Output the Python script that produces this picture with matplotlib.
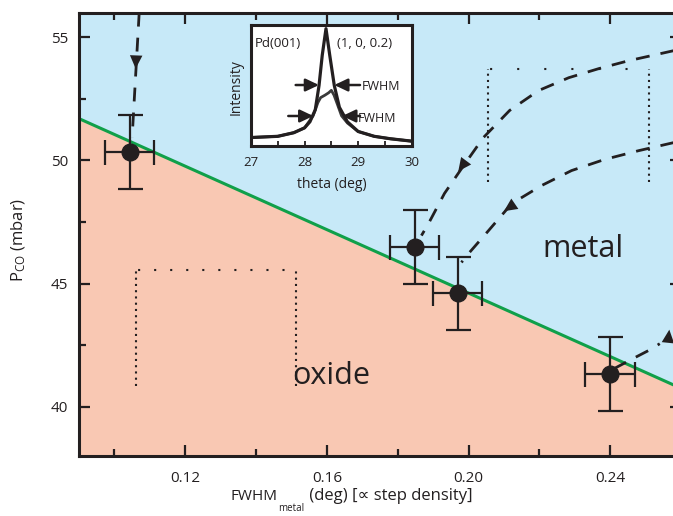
import matplotlib
matplotlib.use('Agg')
import matplotlib.pyplot as plt
from matplotlib.ticker import FixedLocator

plt.rcParams['font.family'] = ['Open Sans', 'DejaVu Sans']
plt.rcParams['mathtext.fontset'] = 'custom'
plt.rcParams['mathtext.rm'] = 'Open Sans'
plt.rcParams['mathtext.it'] = 'Open Sans:italic'
plt.rcParams['mathtext.bf'] = 'Open Sans:bold'

# data points (FWHM of metal peak vs CO pressure)
fwhm = [0.1043, 0.1848, 0.1969, 0.2400]
p_co = [50.34, 46.48, 44.60, 41.33]
fwhm_err = [0.007, 0.007, 0.007, 0.007]
p_err = [1.5, 1.5, 1.5, 1.5]

# phase boundary metal / oxide
boundary_x = [0.09, 0.26]
boundary_y = [51.70, 40.75]

# dashed guide paths
path_a_x = [0.1070, 0.1050]
path_a_y = [56.00, 50.93]
path_b_x = [0.2605, 0.2452, 0.2368, 0.2283, 0.2198, 0.2116, 0.2042, 0.1986, 0.1932, 0.1887, 0.1867]
path_b_y = [54.54, 54.05, 53.73, 53.36, 52.84, 52.03, 50.93, 49.79, 48.66, 47.44, 46.95]
path_c_x = [0.2605, 0.2481, 0.2384, 0.2291, 0.2206, 0.2122, 0.2057, 0.2000, 0.1980]
path_c_y = [50.81, 50.40, 50.04, 49.59, 48.98, 48.25, 47.16, 46.22, 45.86]
path_d_x = [0.2410, 0.2469, 0.2512, 0.2540]
path_d_y = [41.54, 41.99, 42.31, 42.56]
# arrow heads: (tail, tip)
heads = [((0.1064, 55.20), (0.1060, 53.73)),
         ((0.2042, 50.93), (0.1971, 49.56)),
         ((0.2206, 48.98), (0.2100, 47.94)),
         ((0.2561, 42.30), (0.2567, 43.13))]

# dotted frames
frame1_x = [0.1061, 0.1512]
frame1_y = [40.85, 45.54]
frame2_x = [0.2055, 0.2509]
frame2_y = [49.13, 53.73]

# inset: Pd(001) (1, 0, 0.2) scans
theta_sharp = [27.0, 27.5, 27.8, 28.0, 28.1, 28.2, 28.27, 28.33, 28.40, 28.47, 28.555, 28.65, 28.8, 29.0, 29.3, 29.6, 30.0]
int_sharp = [0.07, 0.08, 0.11, 0.15, 0.20, 0.30, 0.50, 0.75, 0.97, 0.75, 0.50, 0.32, 0.20, 0.12, 0.08, 0.06, 0.04]
theta_broad = [27.0, 27.5, 27.8, 28.0, 28.16, 28.25, 28.3, 28.38, 28.45, 28.5, 28.55, 28.6, 28.69, 28.8, 29.0, 29.3, 29.6, 30.0]
int_broad = [0.07, 0.08, 0.11, 0.15, 0.25, 0.36, 0.40, 0.42, 0.44, 0.46, 0.42, 0.36, 0.25, 0.19, 0.12, 0.08, 0.06, 0.04]

blue = '#c7e9f8'
salmon = '#f9c8b3'
green = '#10a04a'
ink = '#231f20'

fig = plt.figure(figsize=(6.73, 5.16), dpi=100)
ax = fig.add_axes([79/673, 1-456/516, 602/673, 443.3/516])

ax.fill_between(boundary_x, boundary_y, 56, color=blue, lw=0, zorder=0)
ax.fill_between(boundary_x, 38, boundary_y, color=salmon, lw=0, zorder=0)
ax.plot(boundary_x, boundary_y, color=green, lw=2.2, zorder=2)

dash = (0, (5, 4))
for px, py in [(path_a_x, path_a_y), (path_b_x, path_b_y), (path_c_x, path_c_y), (path_d_x, path_d_y)]:
    ax.plot(px, py, color=ink, lw=2, linestyle=dash, zorder=3)
for tail, tip in heads:
    ax.annotate('', xy=tip, xytext=tail,
                arrowprops=dict(arrowstyle='-|>,head_length=0.95,head_width=0.45',
                                lw=0, color=ink, shrinkA=0, shrinkB=0), zorder=4)

for fx, fy, top_gap in [(frame1_x, frame1_y, 6.7), (frame2_x, frame2_y, 12)]:
    for xv in fx:
        ax.plot([xv, xv], fy, color=ink, lw=1.5, linestyle=(0, (1, 2)), dash_capstyle='butt', zorder=2)
    ax.plot(fx, [fy[1], fy[1]], color=ink, lw=1.5, linestyle=(top_gap, (1, top_gap)), dash_capstyle='butt', zorder=2)

ax.errorbar(fwhm, p_co, xerr=fwhm_err, yerr=p_err, fmt='o', ms=12, color=ink,
            elinewidth=1.6, capsize=9, capthick=1.6, zorder=5)

ax.text(0.2324, 46.07, 'metal', fontsize=22, color=ink, ha='center', va='baseline')
ax.text(0.1613, 40.92, 'oxide', fontsize=22, color=ink, ha='center', va='baseline')

ax.set_xlim(0.09, 0.26)
ax.set_ylim(38, 56)
ax.xaxis.set_major_locator(FixedLocator([0.12, 0.16, 0.20, 0.24]))
ax.xaxis.set_minor_locator(FixedLocator([0.10, 0.14, 0.18, 0.22, 0.26]))
ax.yaxis.set_major_locator(FixedLocator([40, 45, 50, 55]))
ax.yaxis.set_minor_locator(FixedLocator([42.5, 47.5, 52.5]))
ax.set_xticklabels(['0.12', '0.16', '0.20', '0.24'])
ax.tick_params(which='both', direction='in', top=True, right=True, width=1.6, colors=ink, labelsize=11)
ax.tick_params(which='major', length=8)
ax.tick_params(which='minor', length=5)
ax.tick_params(axis='x', pad=11)
ax.tick_params(axis='y', pad=8)
for s in ax.spines.values():
    s.set_linewidth(2.2)
    s.set_color(ink)

# x label built from pieces so the subscript sits low and the \u221d glyph can fall back
xl1 = fig.text(231/673, 1-500/516, 'FWHM', fontsize=11, color=ink, ha='left', va='baseline')
xl2 = ax.annotate('metal', xy=(1, 0), xycoords=xl1, xytext=(0.3, 1), textcoords='offset points',
                  fontsize=7, color=ink, ha='left', va='top', annotation_clip=False)
xl3 = ax.annotate(' (deg) [\u221d step density]', xy=(1, 0), xycoords=(xl2, xl1), fontsize=12,
                  color=ink, ha='left', va='bottom', annotation_clip=False)

fig.text(23/673, 1-240/516, 'P$_{\\mathrm{CO}}$ (mbar)', fontsize=12, color=ink,
         rotation=90, rotation_mode='anchor', ha='center', va='baseline')

# inset
axin = fig.add_axes([251/673, 1-146/516, 160.7/673, 121/516])
axin.plot(theta_broad, int_broad, color='#3a3a3a', lw=2.0)
axin.plot(theta_sharp, int_sharp, color=ink, lw=2.3)
axin.set_xlim(27, 30)
axin.set_ylim(0, 1)
axin.set_yticks([])
axin.xaxis.set_major_locator(FixedLocator([27, 28, 29, 30]))
axin.xaxis.set_minor_locator(FixedLocator([27.5, 28.5, 29.5]))
axin.tick_params(which='both', direction='in', length=3.5, width=1.3, colors=ink, labelsize=9.5, pad=7)
for s in axin.spines.values():
    s.set_linewidth(2.2)
    s.set_color(ink)

fw_arrow = dict(arrowstyle='-|>,head_length=0.8,head_width=0.38', lw=1.8, color=ink, shrinkA=0, shrinkB=0)
axin.annotate('', xy=(28.269, 0.504), xytext=(27.834, 0.504), arrowprops=fw_arrow)
axin.annotate('', xy=(28.555, 0.504), xytext=(29.035, 0.504), arrowprops=fw_arrow)
axin.annotate('', xy=(28.163, 0.248), xytext=(27.696, 0.248), arrowprops=fw_arrow)
axin.annotate('', xy=(28.704, 0.248), xytext=(29.035, 0.248), arrowprops=fw_arrow)
axin.text(29.07, 0.463, 'FWHM', fontsize=9, color=ink, ha='left', va='baseline')
axin.text(29.0, 0.20, 'FWHM', fontsize=9, color=ink, ha='left', va='baseline')
axin.text(27.075, 0.816, 'Pd(001)', fontsize=9.5, color=ink, ha='left', va='baseline')
axin.text(28.6, 0.816, '(1, 0, 0.2)', fontsize=9.5, color=ink, ha='left', va='baseline')
axin.text(0.5, -0.322, 'theta (deg)', fontsize=10, color=ink, ha='center', va='center',
          transform=axin.transAxes)
axin.text(-0.068, 0.483, 'Intensity', fontsize=10, color=ink, rotation=90, rotation_mode='anchor',
          ha='center', va='baseline', transform=axin.transAxes)

fig.savefig('out.png', dpi=100)
